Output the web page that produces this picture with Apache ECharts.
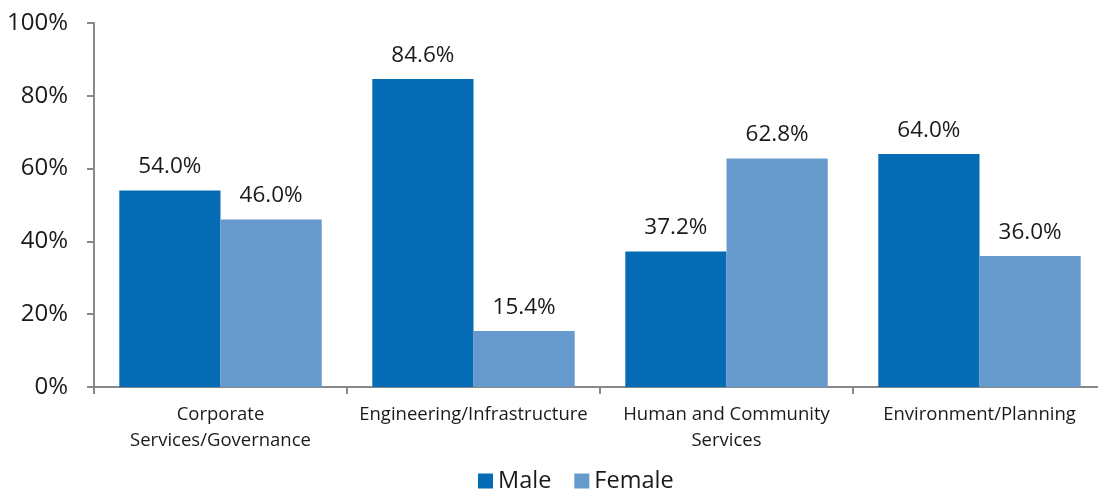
<!DOCTYPE html>
<html>
<head>
<meta charset="utf-8">
<script src="https://cdn.jsdelivr.net/npm/echarts@6/dist/echarts.min.js"></script>
<style>
  html, body { margin: 0; padding: 0; background: #fff; }
  #chart { width: 1098px; height: 495px; }
</style>
</head>
<body>
<div id="chart"></div>
<script>
// Staff gender split by department
const categories = ['Corporate\nServices/Governance', 'Engineering/Infrastructure', 'Human and Community\nServices', 'Environment/Planning'];
const maleShare = [54.0, 84.6, 37.2, 64.0];
const femaleShare = [46.0, 15.4, 62.8, 36.0];
const yTicks = [0, 20, 40, 60, 80, 100];

const FONT = '"Open Sans", Lato, sans-serif';
const AXIS_GREY = '#888888';
const TEXT = '#1a1a1a';

const chart = echarts.init(document.getElementById('chart'), null, { renderer: 'canvas' });

const labelStyle = {
  show: true,
  position: 'top',
  distance: 12,
  fontFamily: FONT,
  fontSize: 22.5,
  color: TEXT,
  formatter: p => p.value.toFixed(1) + '%'
};

chart.setOption({
  animation: false,
  textStyle: { fontFamily: FONT },
  grid: { left: 94, right: -8, top: 23, bottom: 108, containLabel: false, outerBoundsMode: 'none' },
  legend: {
    data: ['Male', 'Female'],
    bottom: -3,
    left: 473,
    itemWidth: 15,
    itemHeight: 15,
    itemGap: 23,
    icon: 'rect',
    textStyle: { fontFamily: FONT, fontSize: 23.5, color: TEXT }
  },
  xAxis: {
    type: 'category',
    data: categories,
    axisLine: { lineStyle: { color: AXIS_GREY, width: 2 } },
    axisTick: { show: true, length: 7, lineStyle: { color: AXIS_GREY, width: 2 } },
    axisLabel: { fontFamily: FONT, fontSize: 18.5, color: TEXT, lineHeight: 26, margin: 15, interval: 0 }
  },
  yAxis: {
    type: 'value',
    min: yTicks[0],
    max: yTicks[yTicks.length - 1],
    interval: yTicks[1] - yTicks[0],
    splitLine: { show: false },
    axisLine: { show: true, lineStyle: { color: AXIS_GREY, width: 2 } },
    axisTick: { show: true, length: 7, lineStyle: { color: AXIS_GREY, width: 2 } },
    axisLabel: { fontFamily: FONT, fontSize: 24, color: TEXT, margin: 26, formatter: v => v + '%' }
  },
  series: [
    {
      name: 'Male',
      type: 'bar',
      data: maleShare,
      barGap: '0%',
      barCategoryGap: '20%',
      itemStyle: { color: '#066BB5' },
      label: labelStyle
    },
    {
      name: 'Female',
      type: 'bar',
      data: femaleShare,
      itemStyle: { color: '#6699CC' },
      label: labelStyle
    }
  ]
});
</script>
</body>
</html>
